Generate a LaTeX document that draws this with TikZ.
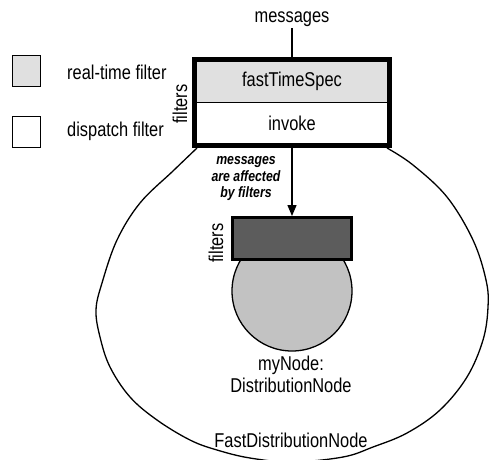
\documentclass[tikz,border=0pt]{standalone}
\usepackage{fontspec}
\setmainfont{Liberation Sans}[FakeStretch=0.82]
\usetikzlibrary{arrows.meta,fit}
\definecolor{rtfill}{gray}{0.88}
\definecolor{nodefill}{gray}{0.76}
\definecolor{dfill}{gray}{0.36}
\tikzset{
  lbl/.style={font=\fontsize{20}{22}\selectfont, inner sep=0pt},
  itl/.style={font=\fontsize{15}{16.5}\selectfont\bfseries\itshape, inner sep=0pt, align=center},
  half/.style={minimum width=195pt, inner sep=0pt, font=\fontsize{20}{22}\selectfont},
  frame/.style={draw, line width=5pt, inner sep=0pt},
  thin/.style={line width=1.3pt},
  legbox/.style={draw, minimum width=28pt, minimum height=31pt, inner sep=0pt},
  filterbox/.style={draw, line width=3pt, fill=dfill, minimum width=119pt, minimum height=42pt, inner sep=0pt},
  objnode/.style={draw, circle, line width=1.3pt, fill=nodefill, minimum size=120pt, inner sep=0pt},
  vlabel/.style={lbl, rotate=90}
}
\begin{document}
\begin{tikzpicture}[x=1pt,y=-1pt]
\useasboundingbox (0,0) rectangle (489,459);
% outer FastDistributionNode oval
\begin{scope}
\clip (0,0) rectangle (489,459);
\draw[thin] plot[smooth, tension=0.6] coordinates {
 (197,148) (173,171) (140,203) (117,240) (102,283) (96,310) (100,337)
 (110,367) (130,397) (157,420) (190,440) (217,450) (250,458) (292,462)
 (343,457) (373,447) (407,433) (440,410) (467,377) (483,340) (488,307)
 (486,280) (473,240) (447,197) (413,165) (387,148)};
\end{scope}
% legend
\node[legbox, line width=1.2pt, fill=rtfill] (lg1) at (26.5,71) {};
\node[legbox, line width=1.5pt] (lg2) at (26.5,132) {};
\node[lbl, anchor=base west] (lt1) at (67,79) {real-time filter};
\node[lbl, anchor=base west] (lt2) at (67,136) {dispatch filter};
% incoming messages
\node[lbl, anchor=base, inner sep=2pt] (msg) at (292,22) {messages};
% filter stack of FastDistributionNode
\node[half, fill=rtfill, minimum height=43pt] (fts) at (292,81) {fastTimeSpec};
\node[half, fill=white, minimum height=42.5pt] (inv) at (292,123.75) {invoke};
\draw[line width=1.2pt] (fts.south west) -- (fts.south east);
\node[frame, fit=(fts)(inv)] (frame) {};
\draw[thin] (msg.south) -- (frame.north);
\node[vlabel] (fl1) at (180,104) {filters};
% object node
\node[objnode] (nd) at (292,291) {};
\node[filterbox] (ff) at (292,238.5) {};
\node[vlabel] (fl2) at (216,243) {filters};
\draw[thin, -{Triangle[width=9pt,length=11pt]}] (frame.south) -- (ff.north);
\node[itl] (aff) at (246,179) {messages\\are affected\\by filters};
\node[lbl, align=center] (mn) at (291,374) {myNode:\\DistributionNode};
\node[lbl, anchor=base] (fd) at (291,447) {FastDistributionNode};
\end{tikzpicture}
\end{document}
